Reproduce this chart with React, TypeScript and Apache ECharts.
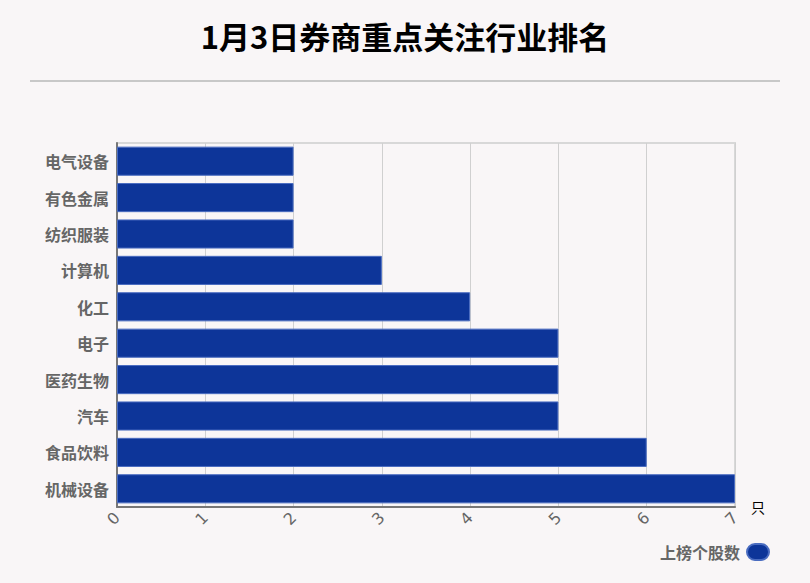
import React, { useEffect, useRef } from 'react';
import * as echarts from 'echarts';

const titleText = '1月3日券商重点关注行业排名';
const industries = ['机械设备', '食品饮料', '汽车', '医药生物', '电子', '化工', '计算机', '纺织服装', '有色金属', '电气设备'];
const stockCounts = [7, 6, 5, 5, 5, 4, 3, 2, 2, 2];
const seriesName = '上榜个股数';
const unitName = '只';

const App: React.FC = () => {
  const chartRef = useRef<HTMLDivElement>(null);

  useEffect(() => {
    document.body.style.margin = '0';
    if (!chartRef.current) return;
    const chart = echarts.init(chartRef.current, null, { renderer: 'svg' });

    const option = {
      animation: false,
      backgroundColor: '#f9f6f7',
      textStyle: { fontFamily: '"Noto Sans CJK SC", "Noto Sans", sans-serif' },
      title: {
        text: titleText,
        left: 'center',
        top: 15,
        textStyle: { fontSize: 31, fontWeight: 'bold', color: '#000' },
      },
      graphic: [
        {
          type: 'line',
          shape: { x1: 30, y1: 81, x2: 780, y2: 81 },
          style: { stroke: '#c8c8c8', lineWidth: 2 },
        },
      ],
      legend: {
        data: [seriesName],
        right: 35,
        bottom: 17,
        align: 'right',
        itemWidth: 22,
        itemHeight: 16,
        icon: 'path://M8,0 L14,0 A8,8 0 0 1 14,16 L8,16 A8,8 0 0 1 8,0 Z',
        textStyle: { fontSize: 16, fontWeight: 'bold', color: '#666', padding: [0, 2, 0, 0] },
      },
      grid: {
        left: 117,
        right: 75,
        top: 143,
        bottom: 76,
        show: true,
        borderColor: '#d8d8d8',
        borderWidth: 2,
      },
      xAxis: {
        type: 'value',
        min: 0,
        max: 7,
        interval: 1,
        name: unitName,
        nameGap: 16,
        nameTextStyle: { color: '#000', fontSize: 14 },
        axisLine: { show: true, lineStyle: { color: '#777', width: 2 } },
        axisTick: { show: false },
        axisLabel: { rotate: 45, color: '#666', fontSize: 16, margin: 8, fontFamily: 'DejaVu Sans' },
        splitLine: { show: true, lineStyle: { color: '#d0d0d0', width: 1 } },
      },
      yAxis: {
        type: 'category',
        data: industries,
        axisLine: { show: true, lineStyle: { color: '#777', width: 2 } },
        axisTick: { show: false },
        axisLabel: { color: '#666', fontSize: 16, fontWeight: 'bold', margin: 8 },
        splitLine: { show: false },
      },
      series: [
        {
          name: seriesName,
          type: 'bar',
          data: stockCounts,
          barWidth: '80%',
          itemStyle: { color: '#0d3599', borderColor: '#4a6cc0', borderWidth: 1 },
        },
      ],
    };

    chart.setOption(option);
    return () => {
      chart.dispose();
    };
  }, []);

  return <div ref={chartRef} style={{ width: '810px', height: '583px' }} />;
};

export default App;
